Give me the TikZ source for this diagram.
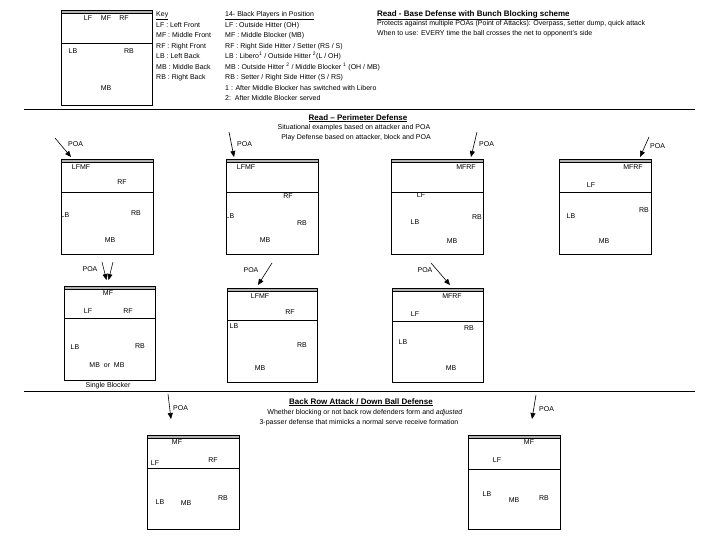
\documentclass[tikz,border=0pt]{standalone}
\usepackage{fontspec}
\setmainfont{Liberation Sans}
\usetikzlibrary{arrows.meta}
\tikzset{
  lbl/.style={font=\fontsize{7}{8}\selectfont, inner sep=0pt, text height=5pt, text depth=1.4pt},
  txt/.style={lbl, anchor=west},
  ttl/.style={font=\fontsize{8}{9}\selectfont\bfseries, inner sep=0pt, text height=5.8pt, text depth=1.6pt},
  courtline/.style={draw=black, line width=0.9pt},
  poa/.style={-{Triangle[length=6pt,width=5pt]}, line width=0.6pt},
  sepline/.style={line width=1pt}
}
\newcommand\drawcourt[5]{%
  \fill[gray!60] (#1,#2) rectangle (#3,#2+3);
  \draw[courtline] (#1,#2) rectangle (#3,#5);
  \draw[courtline] (#1,#2+3) -- (#3,#2+3);
  \draw[courtline] (#1,#4) -- (#3,#4);
}
\begin{document}
\begin{tikzpicture}[x=1pt,y=-1pt]
\useasboundingbox (0,0) rectangle (728,546);
\fill[white] (0,0) rectangle (728,546);

% ---------- top key court ----------
\drawcourt{61}{10}{152}{43}{105}
\node[lbl] (k-lf) at (88,19) {LF};
\node[lbl] (k-mf) at (106,19) {MF};
\node[lbl] (k-rf) at (124,19) {RF};
\node[lbl] (k-lb) at (73,52) {LB};
\node[lbl] (k-rb) at (129,52) {RB};
\node[lbl] (k-mb) at (106,89) {MB};

% key column
\node[txt] (key0) at (156,15) {\underline{Key}};
\node[txt] (key1) at (156,25.5) {LF : Left Front};
\node[txt] (key2) at (156,36) {MF : Middle Front};
\node[txt] (key3) at (156,46.5) {RF : Right Front};
\node[txt] (key4) at (156,57) {LB : Left Back};
\node[txt] (key5) at (156,67.5) {MB : Middle Back};
\node[txt] (key6) at (156,78) {RB : Right Back};

\node[txt] (bp0) at (225,15) {\underline{14- Black Players in Position}};
\node[txt] (bp1) at (225,25.5) {LF : Outside Hitter (OH)};
\node[txt] (bp2) at (225,36) {MF : Middle Blocker (MB)};
\node[txt] (bp3) at (225,46.5) {RF : Right Side Hitter / Setter (RS / S)};
\node[txt] (bp4) at (225,57) {LB : Libero\textsuperscript{1} / Outside Hitter \textsuperscript{2}(L / OH)};
\node[txt] (bp5) at (225,67.5) {MB : Outside Hitter \textsuperscript{2} / Middle Blocker \textsuperscript{1} (OH / MB)};
\node[txt] (bp6) at (225,78) {RB : Setter / Right Side Hitter (S / RS)};
\node[txt] (bp7) at (225,88.5) {1 : After Middle Blocker has switched with Libero};
\node[txt] (bp8) at (225,99) {2:\ \ After Middle Blocker served};

\node[ttl, anchor=west] (t1) at (377,14) {\underline{Read - Base Defense with Bunch Blocking scheme}};
\node[txt] (t1a) at (377,24) {Protects against multiple POAs (Point of Attacks): Overpass, setter dump, quick attack};
\node[txt] (t1b) at (377,34) {When to use: EVERY time the ball crosses the net to opponent's side};

\draw[sepline] (24,109) -- (695,109);

% ---------- perimeter defense ----------
\node[ttl] (t2) at (358,118) {\underline{Read -- Perimeter Defense}};
\node[lbl] (t2a) at (354,128) {Situational examples based on attacker and POA};
\node[lbl] (t2b) at (356,138) {Play Defense based on attacker, block and POA};

% court 1
\drawcourt{61}{159}{153}{192}{254}
\node[lbl] (c1-lfmf) at (81,168) {LFMF};
\node[lbl] (c1-rf) at (122,183) {RF};
\node[lbl] (c1-lb) at (65,216) {LB};
\node[lbl] (c1-rb) at (136,214) {RB};
\node[lbl] (c1-mb) at (110,241) {MB};
\coordinate (a1s) at (55,138);
\coordinate (a1e) at (71,157);
\draw[poa] (a1s) -- (a1e);
\node[txt] (c1-poa) at (68,145) {POA};

% court 2
\drawcourt{226}{159}{318}{192}{254}
\node[lbl] (c2-lfmf) at (246,168) {LFMF};
\node[lbl] (c2-rf) at (288,197) {RF};
\node[lbl] (c2-lb) at (230,217) {LB};
\node[lbl] (c2-rb) at (302,224) {RB};
\node[lbl] (c2-mb) at (265,241) {MB};
\coordinate (a2s) at (229,132);
\coordinate (a2e) at (234,157);
\draw[poa] (a2s) -- (a2e);
\node[txt] (c2-poa) at (237,145) {POA};

% court 3
\drawcourt{391}{159}{483}{192}{254}
\node[lbl] (c3-mfrf) at (466,168) {MFRF};
\node[lbl] (c3-lf) at (421,196) {LF};
\node[lbl] (c3-lb) at (415,223) {LB};
\node[lbl] (c3-rb) at (477,218) {RB};
\node[lbl] (c3-mb) at (452,242) {MB};
\coordinate (a3s) at (477,132);
\coordinate (a3e) at (471,157);
\draw[poa] (a3s) -- (a3e);
\node[txt] (c3-poa) at (479,145) {POA};

% court 4
\drawcourt{559}{159}{651}{192}{254}
\node[lbl] (c4-mfrf) at (633,168) {MFRF};
\node[lbl] (c4-lf) at (591,186) {LF};
\node[lbl] (c4-lb) at (571,217) {LB};
\node[lbl] (c4-rb) at (644,211) {RB};
\node[lbl] (c4-mb) at (604,242) {MB};
\coordinate (a4s) at (649,137);
\coordinate (a4e) at (640,157);
\draw[poa] (a4s) -- (a4e);
\node[txt] (c4-poa) at (650,147) {POA};

% court 5
\drawcourt{64}{286}{155}{318}{380}
\node[lbl] (c5-mf) at (108,294) {MF};
\node[lbl] (c5-lf) at (88,312) {LF};
\node[lbl] (c5-rf) at (128,312) {RF};
\node[lbl] (c5-lb) at (75,348) {LB};
\node[lbl] (c5-rb) at (140,347) {RB};
\node[lbl] (c5-mb) at (107,366) {MB\ \ or\ \ MB};
\node[lbl] (c5-sb) at (108,386) {Single Blocker};
\coordinate (a5s) at (102,262);
\coordinate (a5e) at (106.5,280);
\coordinate (a5t) at (113,262);
\coordinate (a5f) at (108.5,280);
\draw[poa] (a5s) -- (a5e);
\draw[poa] (a5t) -- (a5f);
\node[lbl] (c5-poa) at (90,270) {POA};

% court 6
\drawcourt{227}{288}{317}{320}{382}
\node[lbl] (c6-lfmf) at (260,297) {LFMF};
\node[lbl] (c6-rf) at (290,313) {RF};
\node[lbl] (c6-lb) at (234,327) {LB};
\node[lbl] (c6-rb) at (302,346) {RB};
\node[lbl] (c6-mb) at (260,369) {MB};
\coordinate (a6s) at (272,263);
\coordinate (a6e) at (258,285);
\draw[poa] (a6s) -- (a6e);
\node[lbl] (c6-poa) at (251,271) {POA};

% court 7
\drawcourt{392}{288}{483}{321}{382}
\node[lbl] (c7-mfrf) at (452,297) {MFRF};
\node[lbl] (c7-lf) at (415,315) {LF};
\node[lbl] (c7-rb) at (469,329) {RB};
\node[lbl] (c7-lb) at (403,343) {LB};
\node[lbl] (c7-mb) at (451,369) {MB};
\coordinate (a7s) at (431,263);
\coordinate (a7e) at (450,285);
\draw[poa] (a7s) -- (a7e);
\node[lbl] (c7-poa) at (425,271) {POA};

\draw[sepline] (24,391) -- (695,391);

% ---------- back row attack ----------
\node[ttl] (t3) at (361,402) {\underline{Back Row Attack / Down Ball Defense}};
\node[lbl] (t3a) at (365,413) {Whether blocking or not back row defenders form and \textit{adjusted}};
\node[lbl] (t3b) at (359,423) {3-passer defense that mimicks a normal serve receive formation};

% court 8
\drawcourt{147}{435}{239}{468}{529}
\node[lbl] (c8-mf) at (177,443) {MF};
\node[lbl] (c8-lf) at (155,464) {LF};
\node[lbl] (c8-rf) at (213,461) {RF};
\node[lbl] (c8-lb) at (160,503) {LB};
\node[lbl] (c8-mb) at (186,504) {MB};
\node[lbl] (c8-rb) at (223,499) {RB};
\coordinate (a8s) at (168,394);
\coordinate (a8e) at (171,419);
\draw[poa] (a8s) -- (a8e);
\node[txt] (c8-poa) at (173,409) {POA};

% court 9
\drawcourt{468}{435}{560}{469}{529}
\node[lbl] (c9-mf) at (529,443) {MF};
\node[lbl] (c9-lf) at (497,461) {LF};
\node[lbl] (c9-lb) at (487,495) {LB};
\node[lbl] (c9-mb) at (514,501) {MB};
\node[lbl] (c9-rb) at (544,499) {RB};
\coordinate (a9s) at (536,395);
\coordinate (a9e) at (532,419);
\draw[poa] (a9s) -- (a9e);
\node[txt] (c9-poa) at (539,410) {POA};
\end{tikzpicture}
\end{document}
